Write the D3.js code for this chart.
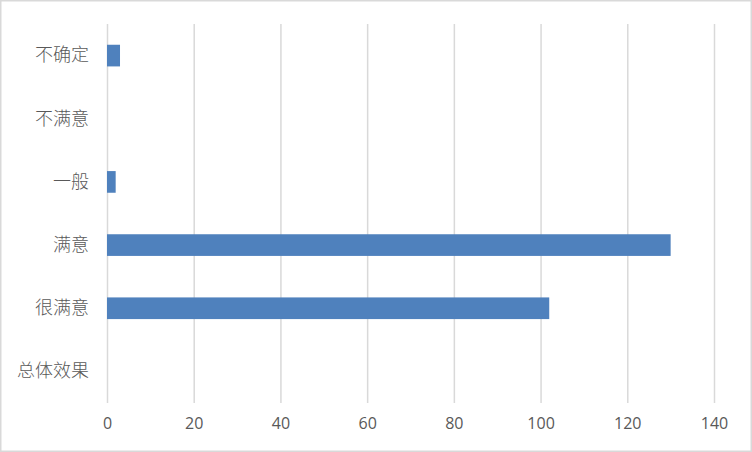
<!DOCTYPE html>
<html><head><meta charset="utf-8">
<script src="https://cdn.jsdelivr.net/npm/d3@7"></script>
<style>body{margin:0;background:#fff}svg{display:block}</style>
</head><body><svg id="c" width="752" height="452"></svg>
<script>
const categories = ["总体效果", "很满意", "满意", "一般", "不满意", "不确定"];
const values = [0, 102, 130, 2, 0, 3];
const xTicks = [0, 20, 40, 60, 80, 100, 120, 140];

const svg = d3.select("#c");
const W = 752, H = 452;
const m = {left: 107, right: 38, top: 24, bottom: 49};

svg.append("rect").attr("x", 0.75).attr("y", 0.75).attr("width", W - 1.5).attr("height", H - 1.5)
  .attr("fill", "#fff").attr("stroke", "#d9d9d9").attr("stroke-width", 1.5);

const x = d3.scaleLinear().domain([0, 140]).range([m.left, W - m.right]);
const y = d3.scaleBand().domain(categories.slice().reverse()).range([m.top, H - m.bottom])
  .paddingInner(0.657).paddingOuter(0.3285);

const grid = svg.append("g").call(d3.axisBottom(x).tickValues(xTicks).tickSize(-(H - m.bottom - m.top)).tickFormat(""))
  .attr("transform", `translate(0,${H - m.bottom})`);
grid.select(".domain").remove();
grid.selectAll("line").attr("stroke", "#d9d9d9").attr("stroke-width", 1.5);

const xa = svg.append("g").attr("transform", `translate(0,${H - m.bottom})`)
  .call(d3.axisBottom(x).tickValues(xTicks).tickSize(0).tickPadding(15));
xa.select(".domain").remove();
xa.selectAll("text").attr("fill", "#595959").style("font-family", "'Open Sans', 'Liberation Sans', sans-serif").style("font-size", "16px");

const ya = svg.append("g").attr("transform", `translate(${m.left},0)`)
  .call(d3.axisLeft(y).tickSize(0).tickPadding(18));
ya.select(".domain").remove();
ya.selectAll("text").attr("fill", "#595959").style("font-family", "'Noto Sans CJK SC', sans-serif").style("font-size", "18px").style("font-weight", 300);

svg.append("g").selectAll("rect").data(categories.map((c, i) => ({c, v: values[i]}))).join("rect")
  .attr("x", x(0)).attr("y", d => y(d.c)).attr("height", y.bandwidth())
  .attr("width", d => x(d.v) - x(0)).attr("fill", "#4f81bd");
</script></body></html>
